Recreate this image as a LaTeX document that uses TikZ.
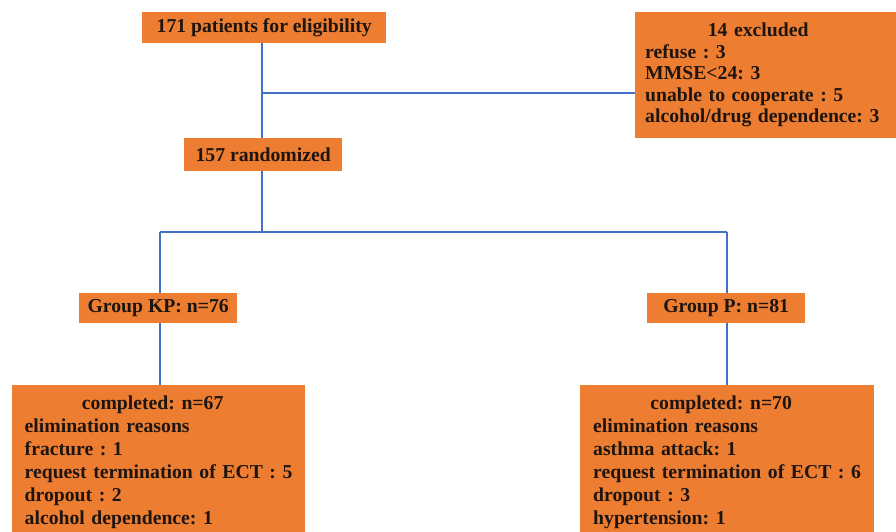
\documentclass[tikz,border=0pt]{standalone}
\usepackage{fontspec}
\setmainfont{Liberation Serif}
\frenchspacing
\definecolor{boxorange}{HTML}{ED7D31}
\definecolor{lineblue}{HTML}{4472C4}
\definecolor{boxtext}{HTML}{1E1510}
\tikzset{
  box/.style={fill=boxorange, draw=none, text=boxtext, anchor=north west,
    font=\bfseries\fontsize{19.7}{21.5}\selectfont\frenchspacing},
  onebox/.style={box, inner sep=0pt},
  listbox/.style={box, align=left},
  conn/.style={draw=lineblue, line width=1.3pt}
}
\begin{document}
\begin{tikzpicture}[x=1pt,y=-1pt]
\useasboundingbox (0,0) rectangle (896,531);
\clip (0,0) rectangle (896,531);
\fill[white] (0,0) rectangle (896,531);
% boxes
\node[onebox, minimum width=244pt, minimum height=31pt] (elig) at (142,12) {171 patients for eligibility};
\node[listbox, inner xsep=10pt, text width=241pt, minimum height=126pt] (excl) at (635,12)
  {\makebox[226pt][c]{14 excluded}\\
   refuse : 3\\
   MMSE<24: 3\\
   unable to cooperate : 5\\
   alcohol/drug dependence: 3};
\node[onebox, minimum width=158pt, minimum height=33pt] (rand) at (184,138) {157 randomized};
\node[onebox, minimum width=158pt, minimum height=30pt] (kp) at (79,293) {Group KP: n=76};
\node[onebox, minimum width=158pt, minimum height=30pt] (gp) at (647,293) {Group P: n=81};
\node[listbox, inner xsep=12.5pt, inner ysep=11pt, text width=268pt,
  font=\bfseries\fontsize{19.7}{23}\selectfont\frenchspacing] (kpout) at (12,385)
  {\makebox[256pt][c]{completed: n=67}\\
   elimination reasons\\
   fracture : 1\\
   request termination of ECT : 5\\
   dropout : 2\\
   alcohol dependence: 1};
\node[listbox, inner xsep=13pt, inner ysep=11pt, text width=268pt,
  font=\bfseries\fontsize{19.7}{23}\selectfont\frenchspacing] (gpout) at (580,385)
  {\makebox[256pt][c]{completed: n=70}\\
   elimination reasons\\
   asthma attack: 1\\
   request termination of ECT : 6\\
   dropout : 3\\
   hypertension: 1};
% connector junctions
\coordinate (exj) at (262,93);
\coordinate (splitL) at (160,232);
\coordinate (splitM) at (262,232);
\coordinate (splitR) at (727,232);
% connectors
\draw[conn] (exj |- elig.south) -- (exj |- rand.north);
\draw[conn] (exj) -- (exj -| excl.west);
\draw[conn] (exj |- rand.south) -- (splitM);
\draw[conn] (splitL) -- (splitR);
\draw[conn] (splitL) -- (splitL |- kp.north);
\draw[conn] (splitR) -- (splitR |- gp.north);
\draw[conn] (splitL |- kp.south) -- (splitL |- kpout.north);
\draw[conn] (splitR |- gp.south) -- (splitR |- gpout.north);
\end{tikzpicture}
\end{document}
